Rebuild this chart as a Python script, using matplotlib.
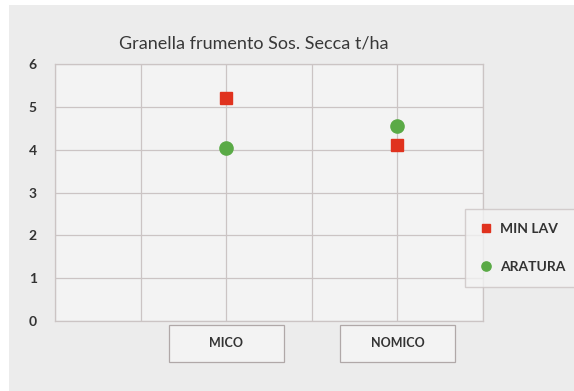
import matplotlib
matplotlib.use("Agg")
import matplotlib.pyplot as plt
from matplotlib.patches import Rectangle
import matplotlib.transforms as mtransforms

# data
categories = ["MICO", "NOMICO"]
cat_pos = [2, 4]
min_lav = [5.2, 4.1]
aratura = [4.05, 4.55]

plt.rcParams['font.family'] = ['Lato', 'DejaVu Sans']

fig = plt.figure(figsize=(5.74, 3.91), dpi=100)
fig.patch.set_facecolor("white")
# grey chart background
fig.patches.append(Rectangle((9/574, 0), 1, 1 - 5/391, transform=fig.transFigure,
                             facecolor="#ececec", edgecolor="none", zorder=-10))

ax = fig.add_axes([55/574, 1 - 321/391, 428/574, 257/391])
ax.set_facecolor("#f3f3f3")
ax.set_xlim(0, 5)
ax.set_ylim(0, 6)
ax.set_xticks(range(6))
ax.set_yticks(range(7))
ax.grid(True, color="#cbc4c4", linewidth=0.9)
ax.set_axisbelow(True)
for s in ax.spines.values():
    s.set_color("#cbc4c4")
    s.set_linewidth(0.9)
ax.tick_params(axis="x", length=0, labelbottom=False)
ax.tick_params(axis="y", length=0, pad=13, labelsize=10, labelcolor="#333333")
for t in ax.get_yticklabels():
    t.set_fontweight("bold")

ax.plot(cat_pos, min_lav, linestyle="none", marker="s", markersize=8,
        color="#e0321e", label="MIN LAV", zorder=3)
ax.plot(cat_pos, aratura, linestyle="none", marker="o", markersize=9.5,
        color="#5aaa46", label="ARATURA", zorder=3)

# category labels in boxes below the axis
trans = mtransforms.blended_transform_factory(ax.transData, ax.transAxes)
for pos, name in zip(cat_pos, categories):
    ax.add_patch(Rectangle((pos - 0.67, -0.16), 1.34, 0.145, transform=trans,
                           facecolor="#f3f3f3", edgecolor="#b0a8a8", linewidth=0.9,
                           clip_on=False))
    ax.text(pos, -0.0875, name, transform=trans, ha="center", va="center",
            fontsize=9, color="#333333", fontweight="bold")

ax.set_title("Granella frumento Sos. Secca t/ha", fontsize=13, color="#383838",
             pad=11, x=0.465)

leg = fig.legend(loc="center left", bbox_to_anchor=(458/574, 1 - 248/391),
                 fontsize=10, frameon=True, labelspacing=1.9, handlelength=1.0,
                 handletextpad=0.5, borderpad=1.0, fancybox=False, markerscale=0.7)
leg.get_frame().set_facecolor("#f3f3f3")
leg.get_frame().set_edgecolor("#cbc4c4")
for t in leg.get_texts():
    t.set_color("#333333")
    t.set_fontweight("bold")

fig.savefig("out.png", dpi=100)
